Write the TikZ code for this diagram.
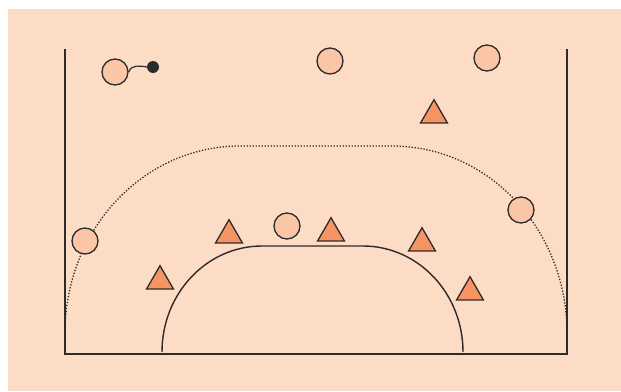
\documentclass[tikz,border=0pt]{standalone}
\usetikzlibrary{shapes.geometric}
\definecolor{bgpeach}{HTML}{FDDCC5}
\definecolor{plfill}{HTML}{FAC6A6}
\definecolor{trifill}{HTML}{F69463}
\definecolor{inkline}{HTML}{2B2B2B}
\begin{document}
\begin{tikzpicture}[x=1pt,y=-1pt,
  player/.style={circle,draw=inkline,fill=plfill,line width=1.3pt,minimum size=26pt,inner sep=0pt},
  defender/.style={regular polygon,regular polygon sides=3,draw=inkline,fill=trifill,line width=1.3pt,minimum size=31pt,inner sep=0pt},
  ballnode/.style={circle,fill=inkline,minimum size=12pt,inner sep=0pt},
  courtline/.style={draw=inkline,line width=1.8pt},
  keyline/.style={draw=inkline,line width=1.4pt},
  arcline/.style={draw=inkline,line width=1.3pt,dash pattern=on 1.3pt off 1.7pt}]
\useasboundingbox (0,0) rectangle (621,391);
\fill[white] (0,0) rectangle (621,391);
\fill[bgpeach] (8,9) rectangle (621,391);
% court
\draw[courtline] (65,49) -- (65,354) -- (567,354) -- (567,49);
% three-point dotted line
\draw[arcline] (65,333) arc[start angle=180,end angle=270,x radius=175,y radius=187] -- (392,146) arc[start angle=270,end angle=360,x radius=175,y radius=187];
% key arc
\draw[keyline] (162,352) arc[start angle=180,end angle=270,x radius=100,y radius=106] -- (363,246) arc[start angle=270,end angle=360,x radius=100,y radius=106];
% players
\node[player] (p1) at (115,72) {};
\node[player] (p2) at (330,61) {};
\node[player] (p3) at (487,58) {};
\node[player] (p4) at (85,241) {};
\node[player] (p5) at (521,210) {};
\node[player] (p6) at (287,226) {};
\node[ballnode] (ball) at (153,67) {};
\draw[draw=inkline,line width=1.2pt] (p1.east) .. controls (132,64) and (140,66) .. (ball.west);
% defenders
\node[defender] (d1) at (434,115.2) {};
\node[defender] (d2) at (229,235.2) {};
\node[defender] (d3) at (331,233.2) {};
\node[defender] (d4) at (422,243.2) {};
\node[defender] (d5) at (160,281.2) {};
\node[defender] (d6) at (470,292.2) {};
\end{tikzpicture}
\end{document}
